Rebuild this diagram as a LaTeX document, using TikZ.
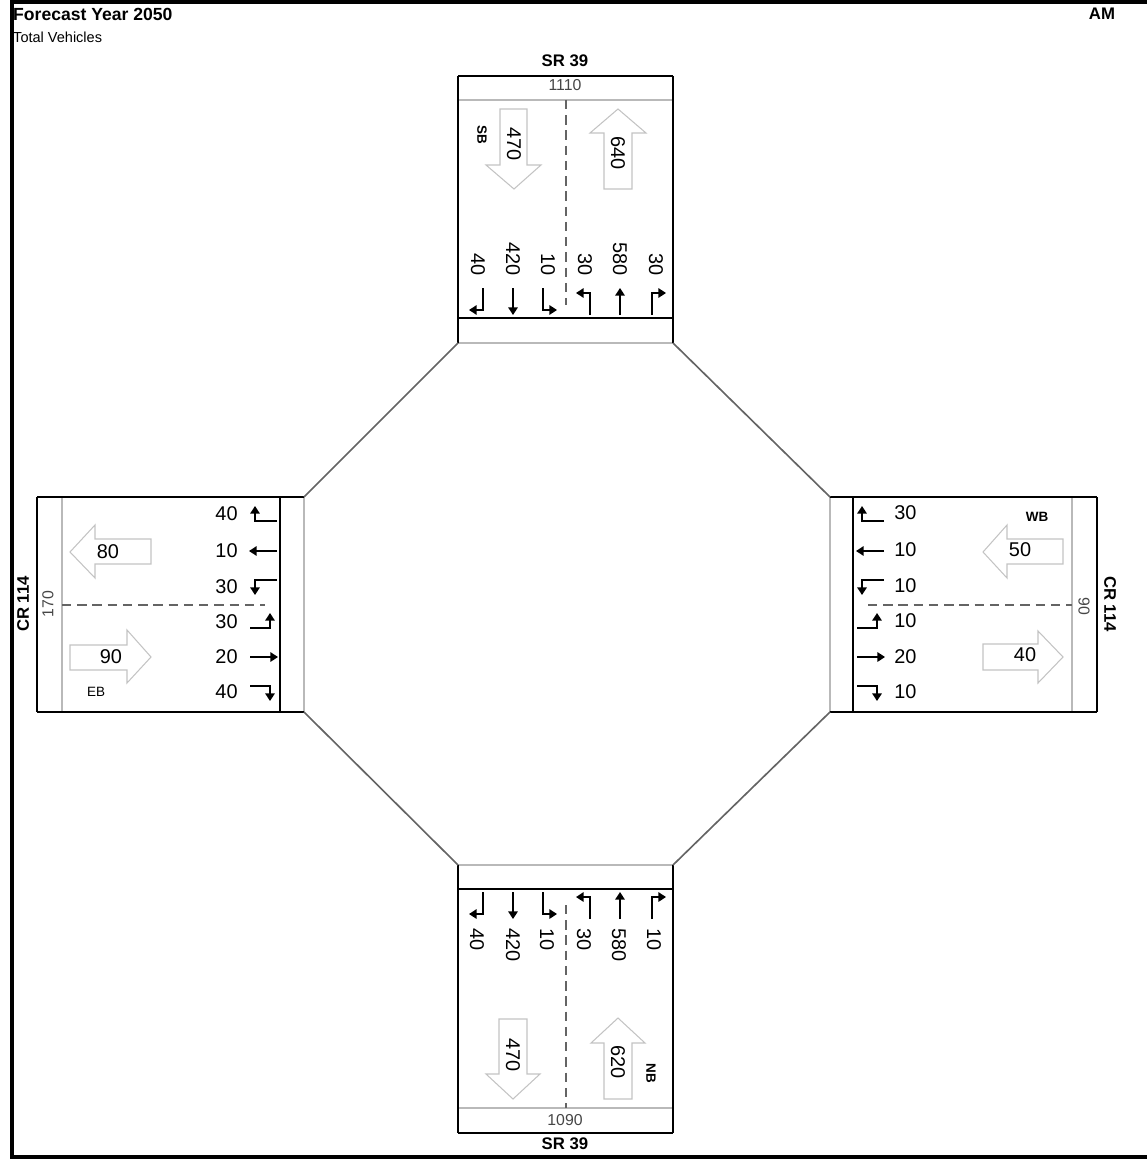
\documentclass[tikz,border=0pt]{standalone}
\usepackage{fontspec}
\setmainfont{Liberation Sans}
\usepackage{tikz}
\usetikzlibrary{arrows.meta}
\definecolor{grisclair}{RGB}{185,185,185}
\definecolor{grisfleche}{RGB}{195,195,195}
\definecolor{gris}{RGB}{100,100,100}
\definecolor{grisfonce}{RGB}{70,70,70}

\tikzset{
  bord/.style={black, line width=1.2pt},
  bordclair/.style={grisclair, line width=0.9pt},
  diag/.style={gris, line width=1.4pt},
  axe/.style={gris, line width=1.1pt, dash pattern=on 8pt off 5pt},
  voie/.style={black, line width=2.3pt, -{Triangle[length=6.5pt,width=8pt]}},
  flux/.style={grisfleche, line width=0.9pt},
  num/.style={font=\fontsize{17}{20}\selectfont, inner sep=1pt},
  total/.style={grisfonce, font=\fontsize{13.5}{16}\selectfont, inner sep=1pt},
  route/.style={font=\bfseries\fontsize{14.3}{17}\selectfont, inner sep=1pt},
  dir/.style={font=\bfseries\fontsize{11.5}{13}\selectfont, inner sep=1pt},
}

\begin{document}
\begin{tikzpicture}[x=0.03cm, y=-0.03cm]
\useasboundingbox (0,0) rectangle (1146,1159);
% cadre
\draw[line width=2.8pt] (12,2) rectangle (1160,1157);
% titres
\node[font=\bfseries\fontsize{15}{18}\selectfont, anchor=base west, inner sep=0] (titre) at (13,21) {Forecast Year 2050};
\node[font=\fontsize{12.4}{14}\selectfont, anchor=base west, inner sep=0] (soustitre) at (13,43) {Total Vehicles};
\node[route, anchor=base, inner sep=0] (periode) at (1102,20) {AM};

% branche nord
\draw[bordclair] (458,100) -- (673,100);
\draw[bordclair] (458,343) -- (673,343);
\draw[bord] (458,76) -- (673,76);
\draw[bord] (458,318) -- (673,318);
\draw[bord] (458,76) -- (458,343);
\draw[bord] (673,76) -- (673,343);
\draw[axe] (566,100) -- (566,305);
% branche sud
\draw[bordclair] (458,865) -- (673,865);
\draw[bordclair] (458,1108) -- (673,1108);
\draw[bord] (458,889) -- (673,889);
\draw[bord] (458,1133) -- (673,1133);
\draw[bord] (458,865) -- (458,1133);
\draw[bord] (673,865) -- (673,1133);
\draw[axe] (566,905) -- (566,1108);
% branche ouest
\draw[bordclair] (62,497) -- (62,712);
\draw[bordclair] (304,497) -- (304,712);
\draw[bord] (37,497) -- (304,497);
\draw[bord] (37,712) -- (304,712);
\draw[bord] (37,497) -- (37,712);
\draw[bord] (280,497) -- (280,712);
\draw[axe] (62,605) -- (265,605);
% branche est
\draw[bordclair] (830,497) -- (830,712);
\draw[bordclair] (1072,497) -- (1072,712);
\draw[bord] (830,497) -- (1097,497);
\draw[bord] (830,712) -- (1097,712);
\draw[bord] (853,497) -- (853,712);
\draw[bord] (1097,497) -- (1097,712);
\draw[axe] (868,605) -- (1072,605);

% diagonales
\coordinate (N-g) at (458,343);
\coordinate (N-d) at (673,343);
\coordinate (O-h) at (304,497);
\coordinate (O-b) at (304,712);
\coordinate (E-h) at (830,497);
\coordinate (E-b) at (830,712);
\coordinate (S-g) at (458,865);
\coordinate (S-d) at (673,865);
\draw[diag] (N-g) -- (O-h);
\draw[diag] (N-d) -- (E-h);
\draw[diag] (O-b) -- (S-g);
\draw[diag] (E-b) -- (S-d);

% voies nord et sud
\foreach \dy in {0,604} {
  \draw[voie] (483,288+\dy) -- (483,310+\dy) -- (469,310+\dy);
  \draw[voie] (513,288+\dy) -- (513,315+\dy);
  \draw[voie] (543,288+\dy) -- (543,310+\dy) -- (557,310+\dy);
  \draw[voie] (590,315+\dy) -- (590,293+\dy) -- (576,293+\dy);
  \draw[voie] (620,315+\dy) -- (620,288+\dy);
  \draw[voie] (652,315+\dy) -- (652,293+\dy) -- (666,293+\dy);
}
% voies ouest et est
\foreach \dx in {0,607} {
  \draw[voie] (277+\dx,521) -- (255+\dx,521) -- (255+\dx,506);
  \draw[voie] (277+\dx,551) -- (249+\dx,551);
  \draw[voie] (277+\dx,580) -- (255+\dx,580) -- (255+\dx,595);
  \draw[voie] (250+\dx,628) -- (270+\dx,628) -- (270+\dx,613);
  \draw[voie] (250+\dx,657) -- (278+\dx,657);
  \draw[voie] (250+\dx,686) -- (270+\dx,686) -- (270+\dx,701);
}

% volumes par mouvement
\foreach \x/\v [count=\i] in {478/40, 513/420, 548/10, 585/30, 620/580, 656/30}
  \node[num, rotate=-90, anchor=east] (nord-\i) at (\x,277) {\v};
\foreach \x/\v [count=\i] in {477/40, 513/420, 547/10, 584/30, 619/580, 654/10}
  \node[num, rotate=-90, anchor=west] (sud-\i) at (\x,927) {\v};
\foreach \y/\v [count=\i] in {514/40, 551/10, 587/30, 622/30, 657/20, 692/40}
  \node[num, anchor=east] (ouest-\i) at (239,\y) {\v};
\foreach \y/\v [count=\i] in {513/30, 550/10, 586/10, 621/10, 657/20, 692/10}
  \node[num, anchor=west] (est-\i) at (893,\y) {\v};

% fleches de flux
\draw[flux] (500,109) -- (527,109) -- (527,165) -- (541,165) -- (514,189) -- (486,165) -- (500,165) -- cycle;
\node[num, rotate=-90] (flux-nord-sb) at (514,144) {470};
\draw[flux] (618,109) -- (646,133) -- (632,133) -- (632,189) -- (604,189) -- (604,133) -- (590,133) -- cycle;
\node[num, rotate=-90] (flux-nord-nb) at (618,153) {640};
\draw[flux] (499,1019) -- (527,1019) -- (527,1074) -- (540,1074) -- (513,1099) -- (486,1074) -- (499,1074) -- cycle;
\node[num, rotate=-90] (flux-sud-sb) at (513,1055) {470};
\draw[flux] (618,1018) -- (645,1043) -- (632,1043) -- (632,1099) -- (604,1099) -- (604,1043) -- (591,1043) -- cycle;
\node[num, rotate=-90] (flux-sud-nb) at (618,1062) {620};
\draw[flux] (70,552) -- (95,525) -- (95,539) -- (151,539) -- (151,564) -- (95,564) -- (95,578) -- cycle;
\node[num] (flux-ouest-wb) at (108,552) {80};
\draw[flux] (70,645) -- (127,645) -- (127,630) -- (151,657) -- (127,683) -- (127,670) -- (70,670) -- cycle;
\node[num] (flux-ouest-eb) at (111,657) {90};
\draw[flux] (983,552) -- (1007,525) -- (1007,539) -- (1063,539) -- (1063,564) -- (1007,564) -- (1007,578) -- cycle;
\node[num] (flux-est-wb) at (1020,550) {50};
\draw[flux] (983,644) -- (1038,644) -- (1038,631) -- (1063,657) -- (1038,683) -- (1038,670) -- (983,670) -- cycle;
\node[num] (flux-est-eb) at (1025,655) {40};

% noms des routes et totaux
\node[route] (nord-nom) at (565,61) {SR 39};
\node[total] (nord-total) at (565,85) {1110};
\node[total] (sud-total) at (565,1120) {1090};
\node[route] (sud-nom) at (565,1144) {SR 39};
\node[route, rotate=90] (ouest-nom) at (23,604) {CR 114};
\node[total, rotate=90] (ouest-total) at (48,604) {170};
\node[route, rotate=-90] (est-nom) at (1110,604) {CR 114};
\node[total, rotate=-90] (est-total) at (1084,606) {90};
% sens
\node[dir, rotate=-90] (sb) at (482,135) {SB};
\node[dir, rotate=-90] (nb) at (651,1073) {NB};
\node[dir] (wb) at (1037,517) {WB};
\node[dir, font=\fontsize{11.5}{13}\selectfont] (eb) at (96,692) {EB};
\end{tikzpicture}
\end{document}
